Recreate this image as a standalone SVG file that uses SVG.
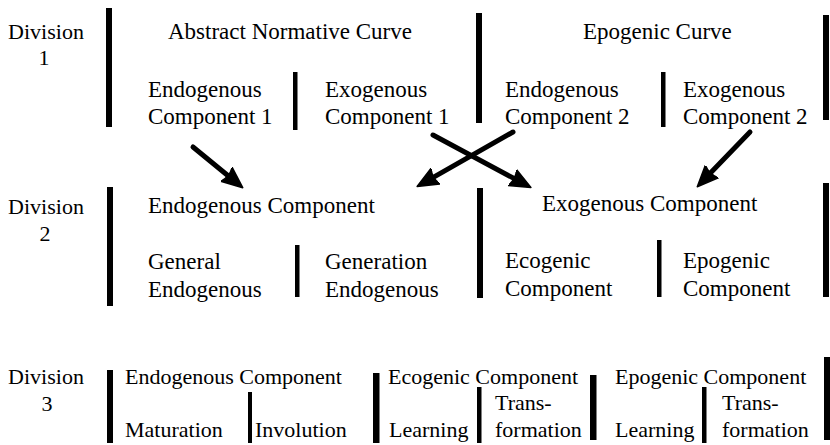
<svg xmlns="http://www.w3.org/2000/svg" width="830" height="445" viewBox="0 0 830 445">
<style>
text{font-family:"Liberation Serif","Times New Roman",serif;fill:#000}
.t{font-size:23px}
.s{font-size:22px}
.d{font-size:22px;text-anchor:middle}
.bar{fill:#000}
.arr{stroke:#000;stroke-width:5;fill:none;stroke-linecap:round}
</style>
<defs>
<marker id="ah" markerUnits="userSpaceOnUse" markerWidth="24" markerHeight="22" refX="10" refY="10" orient="auto" viewBox="0 0 24 22">
<path d="M0,1 L21,10 L0,19 Q4,10 0,1 z" fill="#000" stroke="#000" stroke-width="1.5" stroke-linejoin="round"/>
</marker>
</defs>
<rect width="830" height="445" fill="#fff"/>

<!-- Division 1 -->
<g id="div1-label">
<text class="d" x="46" y="39">Division</text>
<text class="d" x="44" y="65">1</text>
</g>
<g id="div1-bars">
<rect class="bar" x="106" y="8" width="6" height="119"/>
<rect class="bar" x="476" y="13" width="6" height="110"/>
<rect class="bar" x="823" y="15" width="6" height="105"/>
<rect class="bar" x="293" y="72" width="4.5" height="58"/>
<rect class="bar" x="661" y="72" width="4.5" height="55"/>
</g>
<g id="abstract-normative-curve">
<text class="t" x="168" y="39">Abstract Normative Curve</text>
</g>
<g id="epogenic-curve">
<text class="t" x="583" y="39">Epogenic Curve</text>
</g>
<g id="endo-comp-1">
<text class="t" x="148" y="97">Endogenous</text>
<text class="t" x="148" y="124">Component 1</text>
</g>
<g id="exo-comp-1">
<text class="t" x="325" y="97">Exogenous</text>
<text class="t" x="325" y="124">Component 1</text>
</g>
<g id="endo-comp-2">
<text class="t" x="505" y="97">Endogenous</text>
<text class="t" x="505" y="124">Component 2</text>
</g>
<g id="exo-comp-2">
<text class="t" x="683" y="97">Exogenous</text>
<text class="t" x="683" y="124">Component 2</text>
</g>

<!-- Connectors -->
<g id="connectors">
<line class="arr" x1="193" y1="147" x2="234.2" y2="180.7" marker-end="url(#ah)"/>
<line class="arr" x1="433" y1="135" x2="521.2" y2="182.3" marker-end="url(#ah)"/>
<line class="arr" x1="513" y1="132" x2="426.7" y2="181.1" marker-end="url(#ah)"/>
<line class="arr" x1="750" y1="132" x2="704.9" y2="178.8" marker-end="url(#ah)"/>
</g>

<!-- Division 2 -->
<g id="div2-label">
<text class="d" x="46" y="214">Division</text>
<text class="d" x="45" y="241">2</text>
</g>
<g id="div2-bars">
<rect class="bar" x="107" y="187" width="6" height="119"/>
<rect class="bar" x="477" y="188" width="6" height="110"/>
<rect class="bar" x="823" y="183" width="6" height="114"/>
<rect class="bar" x="295" y="245" width="4.5" height="52"/>
<rect class="bar" x="657" y="240" width="4.5" height="57"/>
</g>
<g id="endogenous-component">
<text class="t" x="148" y="213">Endogenous Component</text>
</g>
<g id="exogenous-component">
<text class="t" x="542" y="211">Exogenous Component</text>
</g>
<g id="general-endogenous">
<text class="t" x="148" y="269">General</text>
<text class="t" x="148" y="297">Endogenous</text>
</g>
<g id="generation-endogenous">
<text class="t" x="325" y="269">Generation</text>
<text class="t" x="325" y="297">Endogenous</text>
</g>
<g id="ecogenic-component">
<text class="t" x="505" y="268">Ecogenic</text>
<text class="t" x="505" y="296">Component</text>
</g>
<g id="epogenic-component">
<text class="t" x="683" y="268">Epogenic</text>
<text class="t" x="683" y="296">Component</text>
</g>

<!-- Division 3 -->
<g id="div3-label">
<text class="d" x="46" y="384">Division</text>
<text class="d" x="47" y="411">3</text>
</g>
<g id="div3-bars">
<rect class="bar" x="107" y="370" width="6" height="73"/>
<rect class="bar" x="373" y="373" width="6.5" height="70"/>
<rect class="bar" x="590" y="375" width="6.5" height="65"/>
<rect class="bar" x="824" y="357" width="6" height="83"/>
<rect class="bar" x="248" y="392" width="4" height="51"/>
<rect class="bar" x="477" y="387" width="4.5" height="56"/>
<rect class="bar" x="702" y="387" width="4.5" height="56"/>
</g>
<g id="d3-endogenous-component">
<text class="s" x="125" y="384">Endogenous Component</text>
</g>
<g id="d3-ecogenic-component">
<text class="s" x="388" y="384">Ecogenic Component</text>
</g>
<g id="d3-epogenic-component">
<text class="s" x="615" y="384">Epogenic Component</text>
</g>
<g id="maturation">
<text class="s" x="125" y="437">Maturation</text>
</g>
<g id="involution">
<text class="s" x="255" y="437">Involution</text>
</g>
<g id="learning-1">
<text class="s" x="389" y="437">Learning</text>
</g>
<g id="transformation-1">
<text class="s" x="495" y="410">Trans-</text>
<text class="s" x="495" y="437">formation</text>
</g>
<g id="learning-2">
<text class="s" x="615" y="437">Learning</text>
</g>
<g id="transformation-2">
<text class="s" x="722" y="410">Trans-</text>
<text class="s" x="722" y="437">formation</text>
</g>
</svg>
